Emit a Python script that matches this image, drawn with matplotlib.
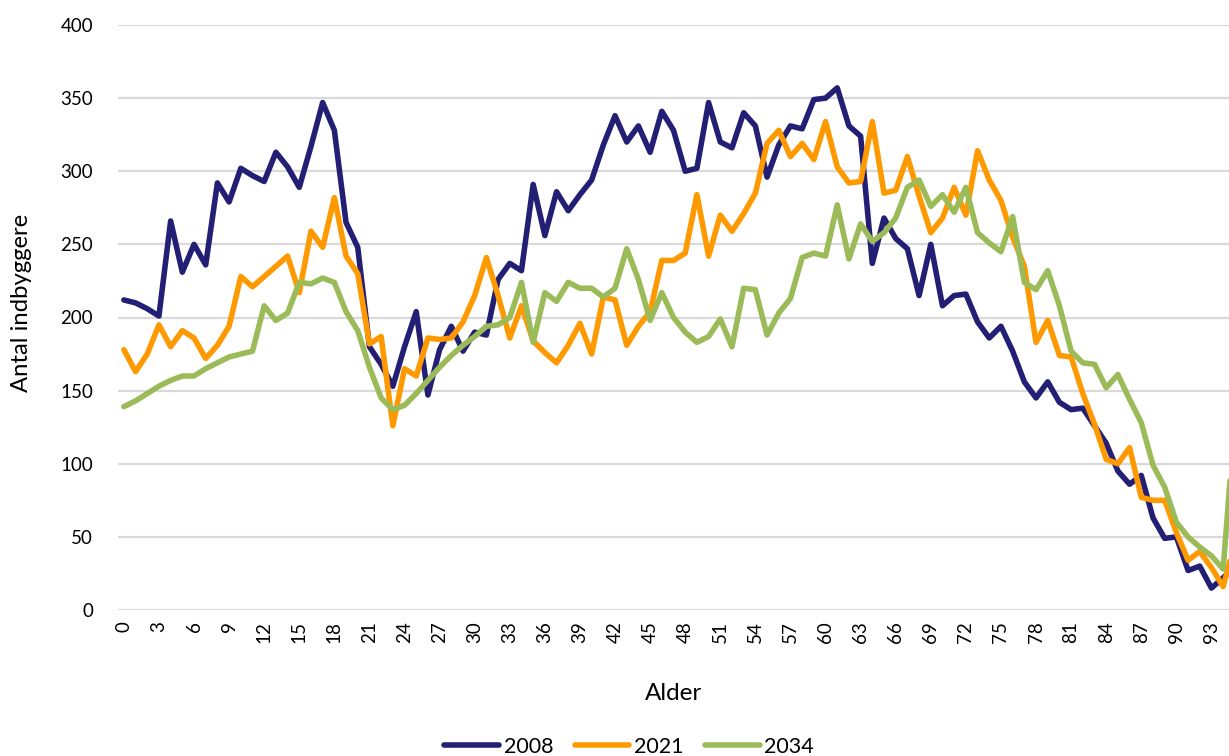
import numpy as np
import matplotlib.pyplot as plt

# Antal indbyggere fordelt på alder, alder 0..95
ages = np.arange(96)

pop_2008 = [212, 210, 206, 201, 266, 231, 250, 236, 292, 279,
            302, 297, 293, 313, 303, 289, 317, 347, 328, 265,
            248, 180, 168, 153, 180, 204, 147, 178, 194, 177,
            190, 188, 226, 237, 232, 291, 256, 286, 273, 284,
            294, 318, 338, 320, 331, 313, 341, 328, 300, 302,
            347, 320, 316, 340, 331, 296, 318, 331, 329, 349,
            350, 357, 331, 324, 237, 268, 254, 247, 215, 250,
            208, 215, 216, 197, 186, 194, 177, 156, 145, 156,
            142, 137, 138, 126, 114, 95, 86, 92, 63, 49,
            50, 27, 30, 15, 22, 30]

pop_2021 = [178, 163, 175, 195, 180, 191, 186, 172, 181, 194,
            228, 221, 228, 235, 242, 217, 259, 248, 282, 242,
            230, 182, 187, 126, 165, 160, 186, 185, 186, 197,
            215, 241, 215, 186, 208, 184, 176, 169, 181, 196,
            175, 214, 212, 181, 194, 204, 239, 239, 244, 284,
            242, 270, 259, 271, 285, 319, 328, 310, 319, 308,
            334, 303, 292, 293, 334, 285, 287, 310, 283, 258,
            268, 289, 270, 314, 294, 280, 255, 235, 183, 198,
            174, 173, 148, 127, 103, 100, 111, 77, 75, 75,
            53, 34, 40, 29, 16, 46]

pop_2034 = [139, 143, 148, 153, 157, 160, 160, 165, 169, 173,
            175, 177, 208, 198, 203, 224, 223, 227, 224, 204,
            191, 166, 145, 137, 140, 148, 157, 166, 174, 181,
            187, 194, 195, 200, 224, 183, 217, 211, 224, 220,
            220, 214, 220, 247, 226, 198, 217, 200, 190, 183,
            187, 199, 180, 220, 219, 188, 203, 213, 241, 244,
            242, 277, 240, 264, 252, 258, 268, 289, 294, 276,
            284, 272, 289, 258, 251, 245, 269, 224, 219, 232,
            208, 177, 169, 168, 152, 161, 144, 128, 99, 84,
            60, 50, 43, 37, 28, 131]

series = [("2008", pop_2008, "#231f74"),
          ("2021", pop_2021, "#ff9900"),
          ("2034", pop_2034, "#9bbb59")]

plt.rcParams['font.family'] = ['Lato', 'DejaVu Sans']

fig = plt.figure(figsize=(12.29, 7.56), dpi=100)
ax = fig.add_axes([118 / 1229, 1 - 610 / 756, 1 - 118 / 1229, 585 / 756])

for name, vals, col in series:
    ax.plot(ages, vals, color=col, lw=4, label=name,
            solid_joinstyle='round', solid_capstyle='round')

ax.set_xlim(-0.5, 94.5)
ax.set_ylim(0, 400)
ax.set_yticks(np.arange(0, 401, 50))
ax.set_xticks(ages[::3][:32])
ax.set_xticklabels([str(a) for a in ages[::3][:32]], rotation=90, va='top', ha='center')
ax.tick_params(axis='both', length=0, labelsize=13.5, colors='black')
ax.tick_params(axis='x', pad=8)
ax.tick_params(axis='y', pad=18)
ax.grid(axis='y', color='#d9d9d9', lw=1.6)
ax.set_axisbelow(True)
for s in ax.spines.values():
    s.set_visible(False)

ax.set_xlabel('Alder', fontsize=17.5, labelpad=29)
ax.set_ylabel('Antal indbyggere', fontsize=17.2, va='center')
ax.yaxis.set_label_coords((22 - 118) / 1111, (610 - 303) / 585)

ax.legend(loc='center', bbox_to_anchor=(0.46, -(747 - 610) / 585), ncol=3, frameon=False,
          fontsize=15.5, handlelength=2.55, handletextpad=0.2, columnspacing=1.0,
          borderpad=0.1)

fig.savefig('out.png', dpi=100)
